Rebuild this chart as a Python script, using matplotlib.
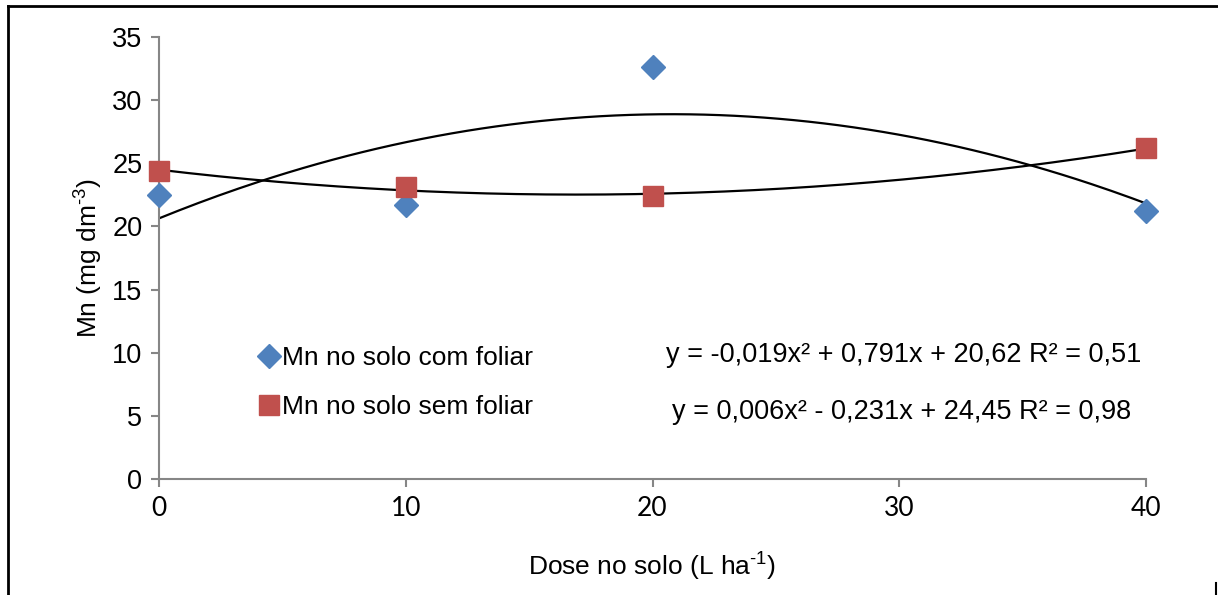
import numpy as np
import matplotlib
matplotlib.use("Agg")
import matplotlib.pyplot as plt
from matplotlib.lines import Line2D

plt.rcParams['font.family'] = ['Liberation Sans', 'DejaVu Sans']
plt.rcParams['mathtext.fontset'] = 'custom'
plt.rcParams['mathtext.rm'] = 'Liberation Sans'
plt.rcParams['mathtext.it'] = 'Liberation Sans'

# data
dose = [0, 10, 20, 40]
mn_com_foliar = [22.5, 21.7, 32.6, 21.2]
mn_sem_foliar = [24.4, 23.1, 22.4, 26.2]

eq_com = "y = -0,019x² + 0,791x + 20,62 R² = 0,51"
eq_sem = "y = 0,006x² - 0,231x + 24,45 R² = 0,98"

blue = '#4F81BD'
red = '#C0504D'
axcol = '#868686'

fig = plt.figure(figsize=(12.18, 5.95), dpi=100)
ax = fig.add_axes([159/1218, 1-479/595, (1146-159)/1218, (479-37)/595])

# polynomial trend lines (2nd order), as in the original
xs = np.linspace(0, 40, 200)
for vals in (mn_com_foliar, mn_sem_foliar):
    c = np.polyfit(dose, vals, 2)
    ax.plot(xs, np.polyval(c, xs), color='black', lw=1.6, zorder=2)

ax.plot(dose, mn_com_foliar, ls='none', marker='D', ms=12, color=blue,
        mec=blue, clip_on=False, zorder=3)
ax.plot(dose, mn_sem_foliar, ls='none', marker='s', ms=15, color=red,
        mec=red, clip_on=False, zorder=3)

ax.set_xlim(0, 40)
ax.set_ylim(0, 35)
ax.set_xticks([0, 10, 20, 30, 40])
ax.set_yticks(range(0, 36, 5))
for s in ['top', 'right']:
    ax.spines[s].set_visible(False)
for s in ['left', 'bottom']:
    ax.spines[s].set_color(axcol)
    ax.spines[s].set_linewidth(1.5)
ax.tick_params(axis='both', colors=axcol, width=1.5, length=6,
               direction='out', labelcolor='black')
ax.tick_params(axis='y', labelsize=19.5, pad=6)
ax.tick_params(axis='x', labelsize=19, pad=6)
for lab in ax.get_xticklabels():
    lab.set_family('Lato')

ax.set_ylabel("Mn (mg dm$^{\u2010 3}$)", fontsize=19, labelpad=5)
ax.set_xlabel("Dose no solo (L ha$^{\u2010 1}$)", fontsize=19, labelpad=22)

handles = [Line2D([], [], ls='none', marker='D', ms=12, color=blue),
           Line2D([], [], ls='none', marker='s', ms=15, color=red)]
ax.legend(handles, ['Mn no solo com foliar', 'Mn no solo sem foliar'],
          loc='upper left', bbox_to_anchor=(0.090, 0.33), frameon=False,
          fontsize=19, handlelength=0.6, handletextpad=0.2,
          labelspacing=0.95, borderpad=0)

fig.text(904/1218, 1-355/595, eq_com, fontsize=19.5, ha='center', va='center')
fig.text(902/1218, 1-412/595, eq_sem, fontsize=19.5, ha='center', va='center')

# outer frame lines
fig.add_artist(Line2D([8/1218, 8/1218], [0, 1-6/595], color='black', lw=2,
                      transform=fig.transFigure))
fig.add_artist(Line2D([8/1218, 1217/1218], [1-6/595, 1-6/595], color='black',
                      lw=2, transform=fig.transFigure))
fig.add_artist(Line2D([1216/1218, 1216/1218], [0, 1-583/595], color='black',
                      lw=1.5, transform=fig.transFigure))

fig.savefig('out.png', dpi=100)
